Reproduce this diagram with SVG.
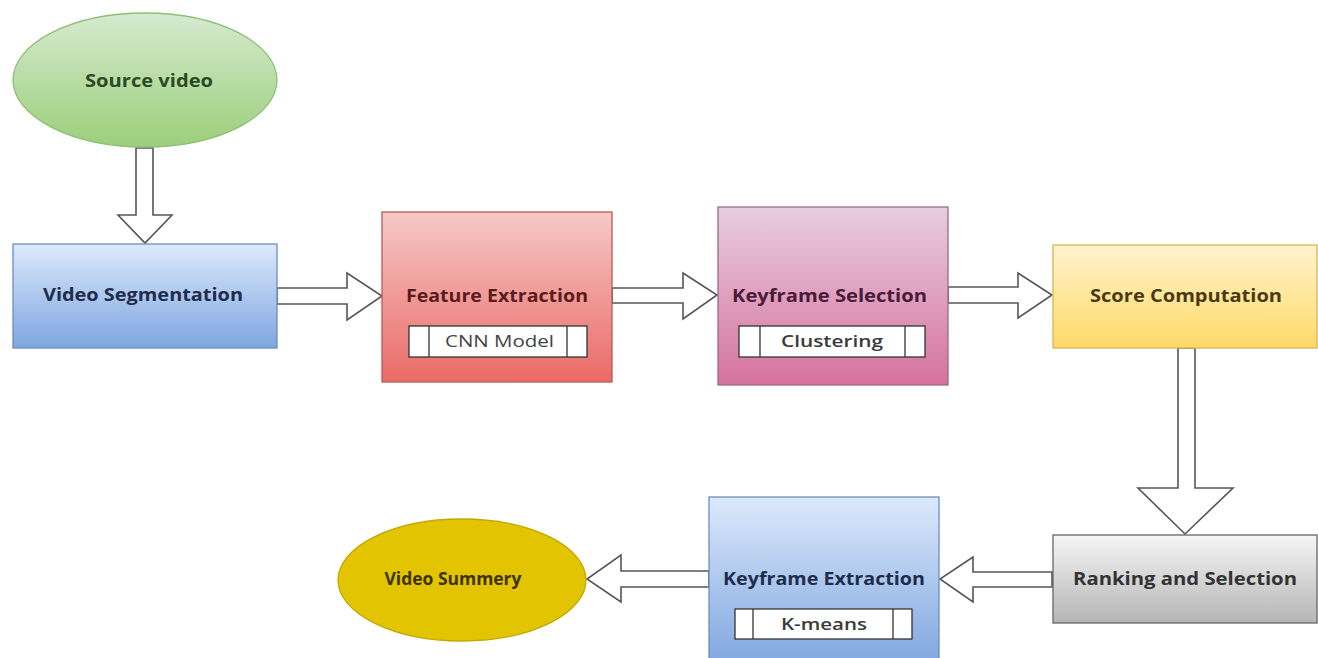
<svg xmlns="http://www.w3.org/2000/svg" width="1318" height="658" viewBox="0 0 1318 658">
<defs>
<linearGradient id="gGreen" x1="0" y1="0" x2="0" y2="1"><stop offset="0" stop-color="#d6ead0"/><stop offset="1" stop-color="#9bcf7a"/></linearGradient>
<linearGradient id="gBlue" x1="0" y1="0" x2="0" y2="1"><stop offset="0" stop-color="#dce9fb"/><stop offset="1" stop-color="#7ea6e0"/></linearGradient>
<linearGradient id="gRed" x1="0" y1="0" x2="0" y2="1"><stop offset="0" stop-color="#f6c9c7"/><stop offset="1" stop-color="#ea6a66"/></linearGradient>
<linearGradient id="gPink" x1="0" y1="0" x2="0" y2="1"><stop offset="0" stop-color="#e8cde0"/><stop offset="1" stop-color="#d5729e"/></linearGradient>
<linearGradient id="gYellow" x1="0" y1="0" x2="0" y2="1"><stop offset="0" stop-color="#fff3cf"/><stop offset="1" stop-color="#ffd966"/></linearGradient>
<linearGradient id="gGray" x1="0" y1="0" x2="0" y2="1"><stop offset="0" stop-color="#f6f6f6"/><stop offset="1" stop-color="#b5b5b5"/></linearGradient>
<style>
.lbl{font-family:"Open Sans","DejaVu Sans",sans-serif;font-weight:bold;font-size:18px;text-anchor:middle}
.sub{font-family:"Open Sans","DejaVu Sans",sans-serif;font-size:17px;text-anchor:middle;fill:#444}
.subb{font-weight:600;fill:#3a3a3a}
.sb{fill:#ffffff;stroke:#333;stroke-width:1.3}
.ln{stroke:#333;stroke-width:1.3;fill:none}
.arr{fill:#ffffff;stroke:#555;stroke-width:1.6;stroke-linejoin:miter}
</style>
</defs>
<rect width="1318" height="658" fill="#ffffff"/>

<g id="connectors">
<polygon class="arr" points="136,148 153,148 153,215 172,215 145,243 118,215 136,215"/>
<polygon class="arr" points="277,288 347,288 347,273 382,296 347,320 347,304 277,304"/>
<polygon class="arr" points="612,288 683,288 683,273 717,295 683,319 683,303 612,303"/>
<polygon class="arr" points="948,287 1018,287 1018,273 1052,295 1018,318 1018,303 948,303"/>
<polygon class="arr" points="1178,348 1195,348 1195,488 1233,488 1185,534 1138,488 1178,488"/>
<polygon class="arr" points="1052,572 973,572 973,557 940,579 973,602 973,587 1052,587"/>
<polygon class="arr" points="709,571 621,571 621,555 587,579 621,602 621,587 709,587"/>
</g>

<g id="source-video">
<ellipse cx="145" cy="80" rx="132" ry="67" fill="url(#gGreen)" stroke="#8fbf75" stroke-width="1.3"/>
<text class="lbl" x="149" y="87" fill="#2c4a24" textLength="128" lengthAdjust="spacingAndGlyphs">Source video</text>
</g>

<g id="video-segmentation">
<rect x="13" y="244" width="264" height="104" fill="url(#gBlue)" stroke="#6c8ebf" stroke-width="1.3"/>
<text class="lbl" x="143" y="301" fill="#1f2d4d" textLength="200" lengthAdjust="spacingAndGlyphs">Video Segmentation</text>
</g>

<g id="feature-extraction">
<rect x="382" y="212" width="230" height="170" fill="url(#gRed)" stroke="#b85a56" stroke-width="1.3"/>
<text class="lbl" x="497" y="302" fill="#5a1c1c" textLength="182" lengthAdjust="spacingAndGlyphs">Feature Extraction</text>
<rect class="sb" x="409" y="326" width="178" height="31"/>
<line class="ln" x1="429" y1="326" x2="429" y2="357"/>
<line class="ln" x1="567" y1="326" x2="567" y2="357"/>
<text class="sub" x="499.5" y="347" textLength="109" lengthAdjust="spacingAndGlyphs">CNN Model</text>
</g>

<g id="keyframe-selection">
<rect x="718" y="207" width="230" height="178" fill="url(#gPink)" stroke="#9a6a88" stroke-width="1.3"/>
<text class="lbl" x="829.5" y="302" fill="#4a1a38" textLength="195" lengthAdjust="spacingAndGlyphs">Keyframe Selection</text>
<rect class="sb" x="739" y="326" width="186" height="31"/>
<line class="ln" x1="760" y1="326" x2="760" y2="357"/>
<line class="ln" x1="905" y1="326" x2="905" y2="357"/>
<text class="sub subb" x="832" y="347" textLength="102" lengthAdjust="spacingAndGlyphs">Clustering</text>
</g>

<g id="score-computation">
<rect x="1053" y="245" width="264" height="103" fill="url(#gYellow)" stroke="#d6b656" stroke-width="1.3"/>
<text class="lbl" x="1186" y="302" fill="#4a3a12" textLength="192" lengthAdjust="spacingAndGlyphs">Score Computation</text>
</g>

<g id="ranking-selection">
<rect x="1053" y="535" width="264" height="88" fill="url(#gGray)" stroke="#666666" stroke-width="1.3"/>
<text class="lbl" x="1185" y="585" fill="#333333" textLength="224" lengthAdjust="spacingAndGlyphs">Ranking and Selection</text>
</g>

<g id="keyframe-extraction">
<rect x="709" y="497" width="230" height="170" fill="url(#gBlue)" stroke="#6c8ebf" stroke-width="1.3"/>
<text class="lbl" x="824" y="585" fill="#1f2d4d" textLength="202" lengthAdjust="spacingAndGlyphs">Keyframe Extraction</text>
<rect class="sb" x="735" y="609" width="177" height="30"/>
<line class="ln" x1="753" y1="609" x2="753" y2="639"/>
<line class="ln" x1="893" y1="609" x2="893" y2="639"/>
<text class="sub subb" x="824" y="630" textLength="86" lengthAdjust="spacingAndGlyphs">K-means</text>
</g>

<g id="video-summery">
<ellipse cx="462" cy="580" rx="124" ry="61" fill="#e2c400" stroke="#c2a800" stroke-width="1.3"/>
<text class="lbl" x="453" y="585" fill="#3d3300" textLength="137" lengthAdjust="spacingAndGlyphs">Video Summery</text>
</g>
</svg>
